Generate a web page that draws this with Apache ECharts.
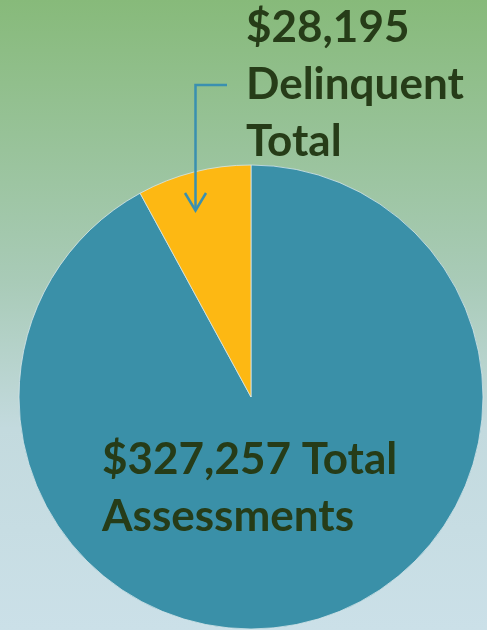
<!DOCTYPE html>
<html>
<head>
<meta charset="utf-8">
<script src="https://cdn.jsdelivr.net/npm/echarts@6/dist/echarts.min.js"></script>
<style>
html,body{margin:0;padding:0;}
#chart{width:487px;height:630px;}
</style>
</head>
<body>
<div id="chart"></div>
<script>
var categories = ['Total Assessments', 'Delinquent Total'];
var values = [327257, 28195];
var colors = ['#3a90a8', '#fdb813'];

function money(v) { return '$' + v.toLocaleString('en-US'); }

var chart = echarts.init(document.getElementById('chart'), null, {renderer: 'canvas'});
var textColor = '#263c18';
var font = 'bold 44px Lato';

chart.setOption({
  animation: false,
  backgroundColor: {
    type: 'linear', x: 0, y: 0, x2: 0, y2: 1,
    colorStops: [
      {offset: 0, color: '#87ba7a'},
      {offset: 0.45, color: '#a9cbb8'},
      {offset: 0.68, color: '#c3dade'},
      {offset: 1, color: '#cbe0e8'}
    ]
  },
  series: [{
    type: 'pie',
    center: [251, 397],
    radius: [0, 232],
    startAngle: 90,
    clockwise: true,
    label: {show: false},
    labelLine: {show: false},
    itemStyle: {borderColor: '#d5e6ea', borderWidth: 0.8},
    emphasis: {disabled: true},
    data: categories.map(function (c, i) {
      return {name: c, value: values[i], itemStyle: {color: colors[i]}};
    })
  }],
  graphic: [
    {
      type: 'text', left: 246, top: -1, z: 10,
      style: {
        text: money(values[1]) + '\nDelinquent\nTotal',
        font: font, fill: textColor, lineHeight: 57
      }
    },
    {
      type: 'text', left: 102, top: 431, z: 10,
      style: {
        text: money(values[0]) + ' Total\nAssessments',
        font: font, fill: textColor, lineHeight: 57
      }
    },
    {
      type: 'polyline', z: 10,
      shape: {points: [[227, 85], [195.5, 85], [195.5, 210]]},
      style: {stroke: '#3a90b0', lineWidth: 2.5, fill: null}
    },
    {
      type: 'polyline', z: 10,
      shape: {points: [[185, 193], [195.5, 210.5], [206, 193]]},
      style: {stroke: '#3a90b0', lineWidth: 2.5, fill: null}
    }
  ]
});
</script>
</body>
</html>
